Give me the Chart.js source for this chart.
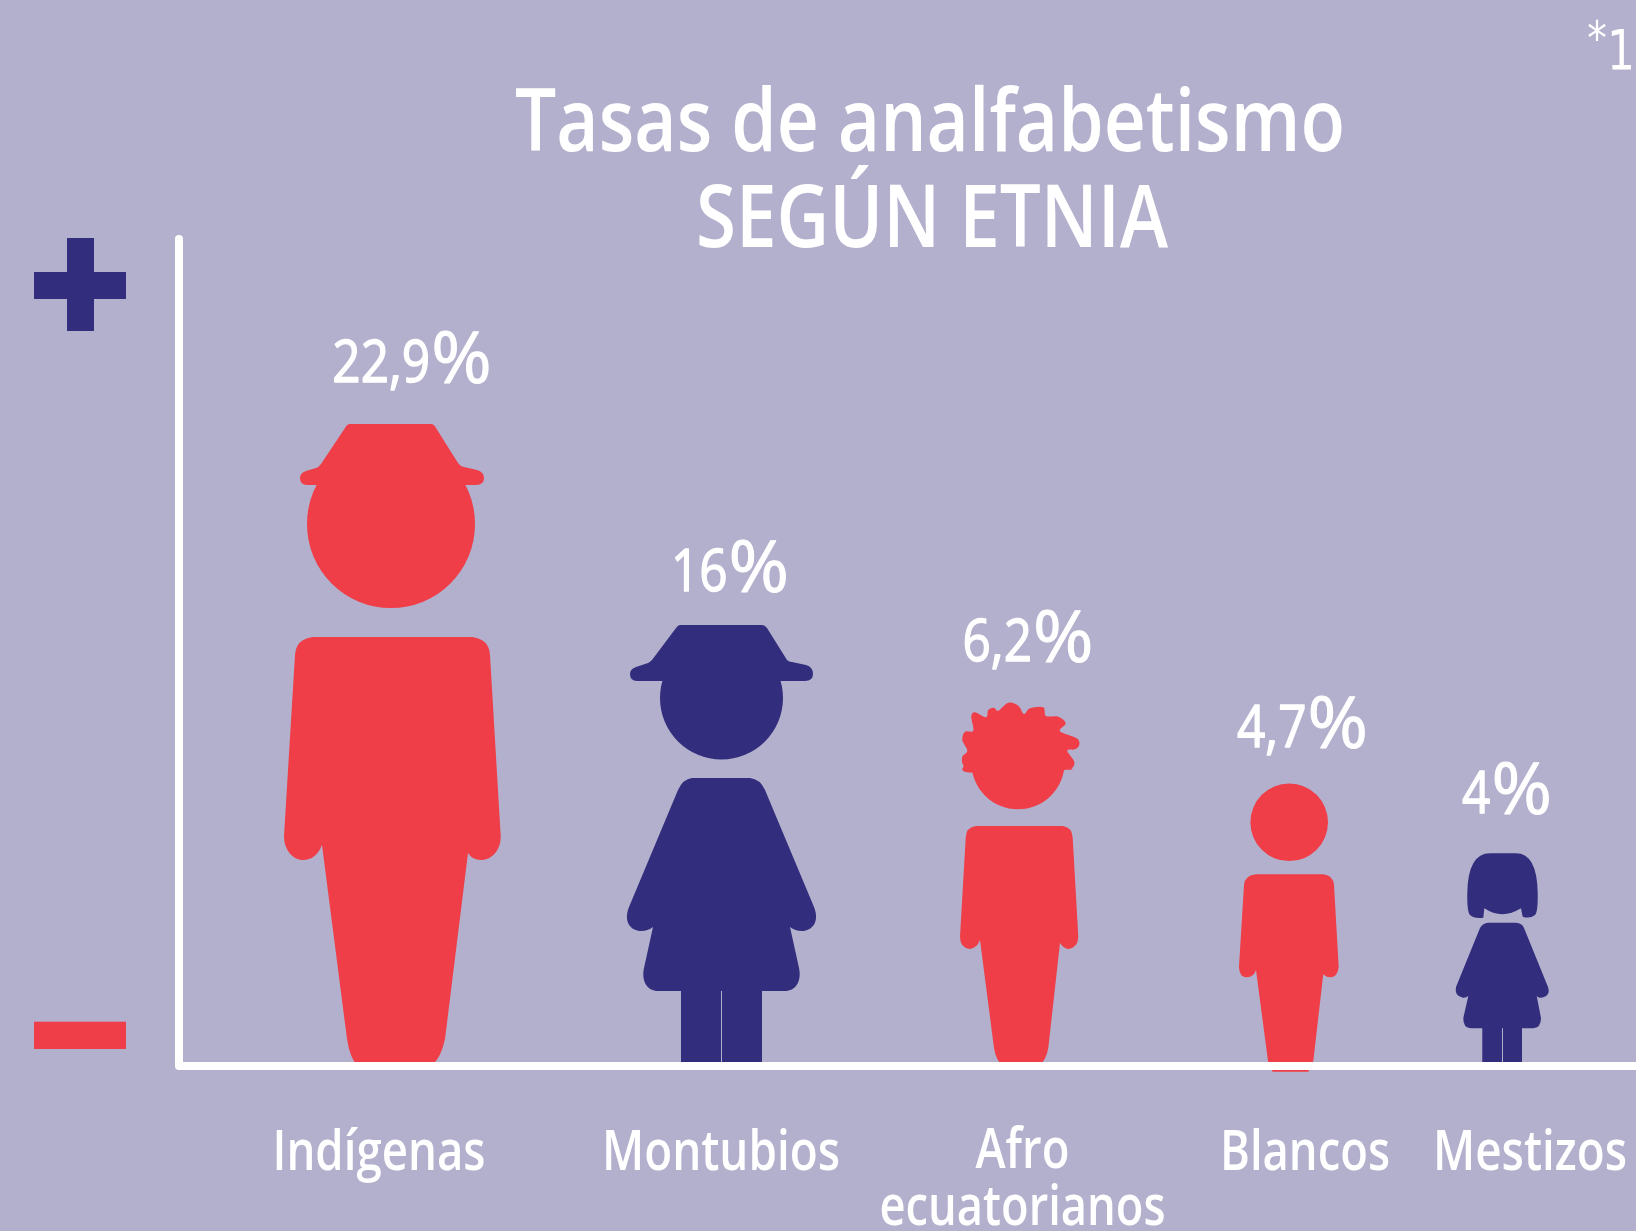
<!DOCTYPE html>
<html lang="es">
<head>
<meta charset="utf-8">
<title>Tasas de analfabetismo según etnia</title>
<style>
html,body{margin:0;padding:0;background:#b3b0cd;overflow:hidden}
canvas{display:block}
</style>
<script src="https://cdn.jsdelivr.net/npm/chart.js@4/dist/chart.umd.min.js"></script>
</head>
<body>
<canvas id="c" width="1636" height="1231"></canvas>
<script>
// ---------- data ----------
const titleLines = ['Tasas de analfabetismo', 'SEGÚN ETNIA'];
const categories = ['Indígenas', 'Montubios', ['Afro', 'ecuatorianos'], 'Blancos', 'Mestizos'];
const rates = [22.9, 16, 6.2, 4.7, 4];
const footnote = ['*', '1'];

// ---------- style ----------
const BG = '#b3b0cd', RED = '#ef3e47', NAVY = '#322d7c', WHITE = '#ffffff';
const figureColors = [RED, NAVY, RED, RED, NAVY];
const FONT = '"Open Sans", "Noto Sans", sans-serif';

// Pictograms: each is drawn in its own space, origin (cx, BASE), and is scaled to its bar.
const BASE = 1066;
const FIGURES = [
 { cx: 392, h: 642, parts: [
   'M350,424 L431,424 Q434,424 436,428 L458,463 Q460,466 464,467 L477,470 Q484,472 484,478 Q484,485 476,485 L307,485 Q300,485 300,478 Q300,473 306,471 L316,468 Q319,467 321,464 L345,428 Q347,424 350,424 Z',
   'M475,524 A84,84 0 1 1 307,524 A84,84 0 1 1 475,524 Z',
   'M313,637 L472,637 Q489,639 490,655 L500.7,836 C501,850 492,860 481,860 Q472,860 468,853 L445,1039 Q441,1058 432,1065 L357,1065 Q350,1058 347,1039 L322,845 Q316,860 303,860 C293,860 284,850 284,836 L295,655 Q296,639 313,637 Z'
 ]},
 { cx: 721.5, h: 441.4, parts: [
   'M680,625 L762,625 Q765,625 767,628 L787,660 Q789,662 792,662 L806,665 Q813,667 813,674 Q813,681 805,681 L637,681 Q630,681 630,674 Q630,669 636,667 L648,663 Q650,662 652,660 L676,628 Q678,625 680,625 Z',
   'M783,698 A61.5,61.5 0 1 1 660,698 A61.5,61.5 0 1 1 783,698 Z',
   'M692,778 L750,778 Q760,779 765,790 L814,907 C820,922 812,931 802,931 Q795,931 790,927 L799,968 C802,982 795,991 785,991 L762,991 L762,1065 L722,1065 L722,991 L721,991 L721,1065 L681,1065 L681,991 L658,991 C648,991 641,982 644,968 L653,927 Q648,931 641,931 C631,931 623,922 629,907 L678,790 Q683,779 692,778 Z'
 ]},
 { cx: 1019, h: 363.3, hair: [[972.7,772.7],[963.3,765],[962.3,756.7],[967.3,750.7],[962.3,740],[965,731.7],[973.3,730.7],[971.3,716.7],[975,712.3],[986,717.3],[988.3,710],[994,707.7],[998.3,710.7],[1008.3,702.7],[1018.3,705.7],[1024,714],[1030,708.3],[1043.3,707.3],[1046,716],[1058.3,716.7],[1065.7,723.3],[1060,731.3],[1076.7,738.3],[1079.3,745],[1075,749.3],[1067.3,750.7],[1074.3,761.7],[1071.7,768.3],[1064,770]],
   parts: [
   'M1064.6,762.7 A46.6,46.6 0 1 1 971.4,762.7 A46.6,46.6 0 1 1 1064.6,762.7 Z',
   'M976,826 L1062.7,826 Q1072,827 1072.7,838 L1078.3,936.7 Q1078,948 1068,949 Q1063,948 1060,943 L1048.3,1048 Q1046,1060 1040,1065 L1001.7,1065 Q996,1060 994,1048 L980,940 Q977,948 970,949 Q960,948 960,936.7 L965.7,838 Q966,827 976,826 Z'
 ]},
 { cx: 1289, h: 282.3, parts: [
   'M1328,822.3 A38.8,38.8 0 1 1 1250.4,822.3 A38.8,38.8 0 1 1 1328,822.3 Z',
   'M1256,874.3 L1323,874.3 Q1333,875 1334,885 L1338.7,966.7 Q1338,977 1330,977.3 Q1325,977 1323.3,974 L1313.3,1061 L1308.3,1071.7 L1272.7,1071.7 L1268,1061 L1256,970 Q1254,977 1247,977.3 Q1239,977 1239,966.7 L1244,885 Q1245,875 1256,874.3 Z'
 ]},
 { cx: 1502, h: 212.7, parts: [
   'M1490,853.3 L1516,853.3 Q1537,853.3 1537.7,893 Q1538,912 1535,915 Q1530,919 1522.7,916.7 L1521,908.3 Q1502,920 1484.3,908.3 L1483.3,917.7 Q1474,919 1470,915 Q1467,912 1467.3,893 Q1468,853.3 1490,853.3 Z',
   'M1488,922.7 L1516,922.7 Q1522,923 1524,928 L1548,987 Q1551,996 1541,997.7 Q1538,998 1536.7,996 L1541,1018 Q1541,1028 1533,1028.3 L1522,1028.3 L1522,1065 L1503,1065 L1503,1028.3 L1502,1028.3 L1502,1065 L1482.3,1065 L1482.3,1028.3 L1471,1028.3 Q1463,1028 1463.3,1018 L1468.3,996 Q1466,998 1463,997.7 Q1454,996 1456,987 L1480,928 Q1483,923 1488,922.7 Z'
 ]}
];
// closed Catmull-Rom outline through the curls of the hair
function hairPath(points){
  const p = new Path2D(), n = points.length, at = i => points[(i+n)%n];
  p.moveTo(at(0)[0], at(0)[1]);
  for (let i=0;i<n;i++){
    const a=at(i-1), b=at(i), c=at(i+1), d=at(i+2);
    p.bezierCurveTo(b[0]+(c[0]-a[0])/6, b[1]+(c[1]-a[1])/6, c[0]-(d[0]-b[0])/6, c[1]-(d[1]-b[1])/6, c[0], c[1]);
  }
  p.closePath();
  return p;
}
FIGURES.forEach(f => { f.paths = f.parts.map(s => new Path2D(s)); if (f.hair) f.paths.push(hairPath(f.hair)); });

// value label placement relative to each figure: [dx from centre, gap above top]
const VALUE_OFFSET = [[20,42],[8.5,34],[9,42],[13.5,37],[5,40.6]];
// tick label placement: dx from figure centre, baseline and fitted width per line
const TICK_STYLE = [
  { dx:-13, lines:[[1170,213]] },
  { dx:-0.5,  lines:[[1170,238]] },
  { dx:3.5,   lines:[[1168,94],[1225,286]] },
  { dx:16,    lines:[[1170,170]] },
  { dx:28,    lines:[[1170,194]] }
];

// ---------- scales: the infographic's axes are pictorial, not linear ----------
class PictorialY extends Chart.LinearScale {
  static id = 'pictorialY';
  static defaults = Chart.LinearScale.defaults;
  getPixelForValue(v){
    const s = this.options.stops;
    for (let i=1;i<s.length;i++){
      if (v <= s[i][0]){
        const t = (v - s[i-1][0])/(s[i][0]-s[i-1][0]);
        return this.bottom - (s[i-1][1] + t*(s[i][1]-s[i-1][1]));
      }
    }
    return this.top;
  }
}
class PictorialX extends Chart.CategoryScale {
  static id = 'pictorialX';
  static defaults = Chart.CategoryScale.defaults;
  getPixelForValue(v){ return this.options.centers[Math.round(v)]; }
  getPixelForTick(i){ return this.options.centers[i]; }
}
Chart.register(PictorialY, PictorialX);

function fitText(ctx, text, x, y, font, sx, align, embolden){
  ctx.font = font;
  ctx.save();
  ctx.translate(x, y);
  ctx.scale(sx, 1);
  ctx.textAlign = align || 'center';
  ctx.textBaseline = 'alphabetic';
  ctx.fillText(text, 0, 0);
  if (embolden){ ctx.strokeStyle = ctx.fillStyle; ctx.lineWidth = embolden; ctx.lineJoin = 'round'; ctx.strokeText(text, 0, 0); }
  ctx.restore();
}
function fitWidth(ctx, text, x, y, font, width){
  ctx.font = font;
  fitText(ctx, text, x, y, font, width / ctx.measureText(text).width);
}

const infographic = {
  id: 'infographic',
  beforeDraw(chart){
    const c = chart.ctx;
    c.save(); c.fillStyle = BG; c.fillRect(0,0,chart.width,chart.height); c.restore();
  },
  afterDatasetsDraw(chart){
    const c = chart.ctx, bars = chart.getDatasetMeta(0).data;
    c.save();
    bars.forEach((bar,i) => {
      const f = FIGURES[i], s = (bar.base - bar.y)/f.h;
      c.save();
      c.translate(bar.x, bar.base);
      c.scale(s, s);
      c.translate(-f.cx, -BASE);
      c.fillStyle = figureColors[i];
      f.paths.forEach(p => c.fill(p));
      c.restore();
    });
    // + and - ends of the scale
    c.fillStyle = NAVY;
    c.fillRect(34,272,92,27); c.fillRect(67,238,27,93);
    c.fillStyle = RED;
    c.fillRect(34,1021.7,92,27.3);

    c.fillStyle = WHITE;
    // title
    fitWidth(c, titleLines[0], 930, 151, '600 86px '+FONT, 830);
    fitWidth(c, titleLines[1], 932, 246.5, '600 86px '+FONT, 472);
    // footnote mark
    fitText(c, footnote[0], 1597, 54, '400 46px "DejaVu Sans"', 0.85);
    fitText(c, footnote[1], 1621, 69, '400 55px "DejaVu Sans"', 0.8);
    // value labels
    bars.forEach((bar,i) => {
      const num = String(rates[i]).replace('.',','), nf='400 59px '+FONT, pf='400 71px '+FONT, sn=0.84, sp=1.03, gap=1;
      c.font = nf; const nw = c.measureText(num).width*sn;
      c.font = pf; const pw = c.measureText('%').width*sp;
      const left = bar.x + VALUE_OFFSET[i][0] - (nw+gap+pw)/2, y = bar.y - VALUE_OFFSET[i][1];
      fitText(c, num, left, y, nf, sn, 'left', 1.4);
      fitText(c, '%', left+nw+gap, y+1, pf, sp, 'left', 1);
    });
    // category labels
    bars.forEach((bar,i) => {
      const lines = [].concat(categories[i]);
      lines.forEach((t,k) => {
        const [base,width] = TICK_STYLE[i].lines[k];
        fitWidth(c, t, bar.x + TICK_STYLE[i].dx, base, '600 56px '+FONT, width);
      });
    });
    c.restore();
  },
  afterDraw(chart){
    const c = chart.ctx, a = chart.chartArea;
    c.save();
    // rounded ends of the axis lines
    c.fillStyle = BG;
    c.fillRect(a.left-4.5,a.top-4.5,9,5);
    c.fillRect(a.left-4.5,a.bottom,4.5,4.5);
    c.fillStyle = WHITE;
    c.beginPath(); c.arc(a.left,a.top,4,0,Math.PI*2); c.fill();
    c.beginPath(); c.arc(a.left,a.bottom,4,0,Math.PI*2); c.fill();
    c.fillRect(a.left,a.bottom,8,4);
    c.restore();
  }
};

new Chart(document.getElementById('c'), {
  type: 'bar',
  data: {
    labels: categories,
    datasets: [{ label:'Tasa de analfabetismo (%)', data: rates, backgroundColor:'rgba(0,0,0,0)', borderWidth:0, barThickness:100 }]
  },
  plugins: [infographic],
  options: {
    responsive:false, animation:false, devicePixelRatio:1,
    layout:{ padding:{ top:239, right:0, left:0, bottom:0 } },
    plugins:{ legend:{display:false}, tooltip:{enabled:false}, title:{display:false} },
    events:[],
    scales:{
      x:{ type:'pictorialX', centers:[392,721.5,1019,1289,1502],
          grid:{display:false}, ticks:{display:false},
          border:{display:true,color:WHITE,width:8,z:1},
          afterFit(s){ s.height = 1231-1066; } },
      y:{ type:'pictorialY', min:0, max:30,
          stops:[[0,0],[4,212.7],[4.7,282.3],[6.2,363.3],[16,441.4],[22.9,642],[30,827]],
          grid:{display:false}, ticks:{display:false},
          border:{display:true,color:WHITE,width:8,z:1},
          afterFit(s){ s.width = 179; } }
    }
  }
});
</script>
</body>
</html>
